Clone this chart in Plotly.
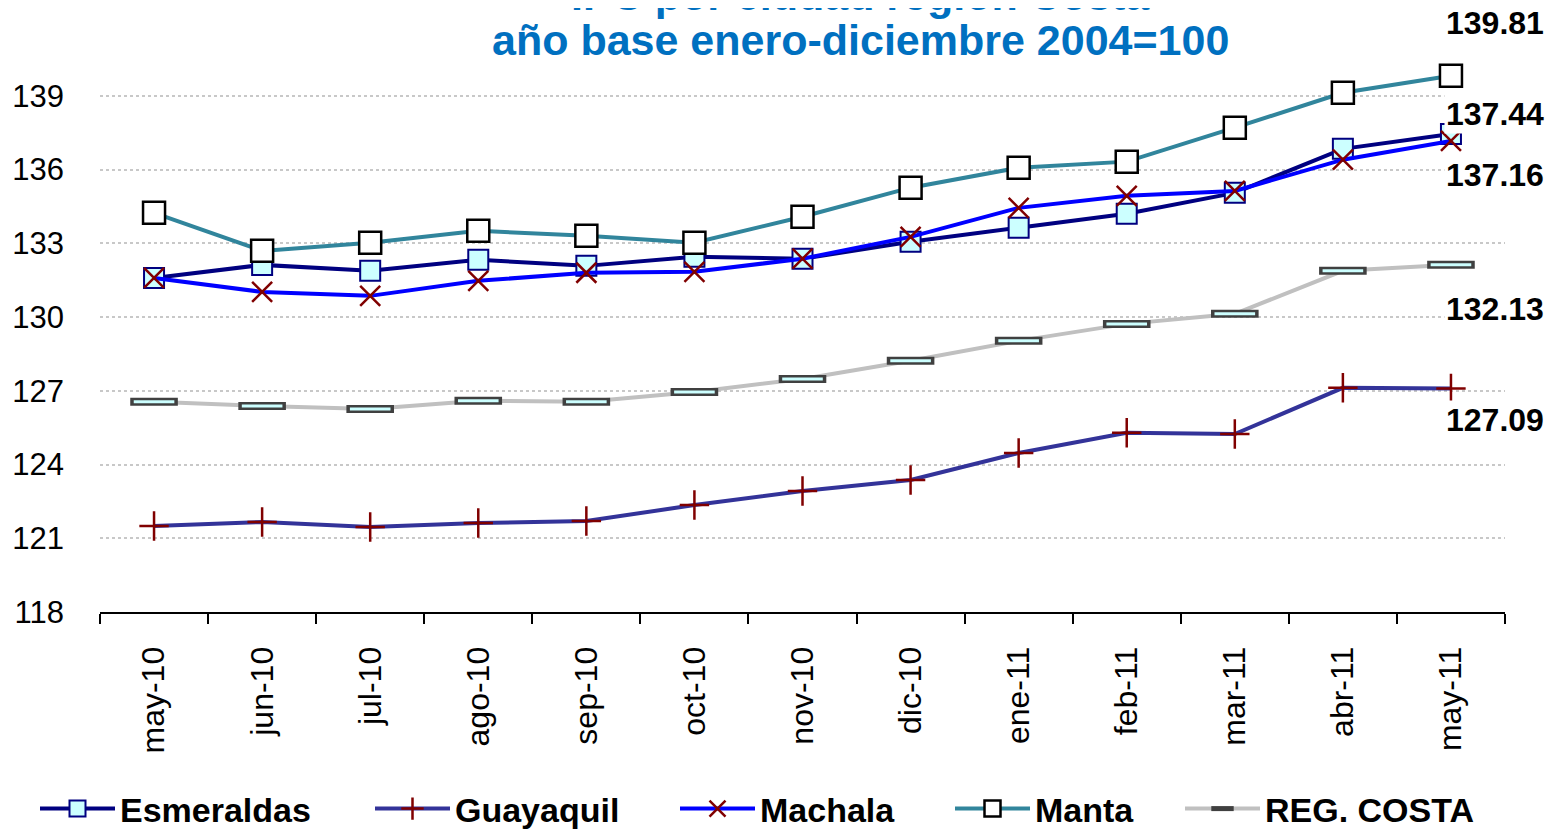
import plotly.graph_objects as go

months = ["may-10", "jun-10", "jul-10", "ago-10", "sep-10", "oct-10", "nov-10",
          "dic-10", "ene-11", "feb-11", "mar-11", "abr-11", "may-11"]

esmeraldas = [131.59, 132.12, 131.88, 132.33, 132.08, 132.45, 132.37, 133.06, 133.63, 134.20, 135.05, 136.84, 137.44]
guayaquil = [121.50, 121.66, 121.46, 121.62, 121.70, 122.35, 122.92, 123.37, 124.47, 125.29, 125.24, 127.12, 127.09]
machala = [131.59, 131.02, 130.86, 131.47, 131.80, 131.84, 132.37, 133.26, 134.44, 134.93, 135.13, 136.40, 137.16]
manta = [134.24, 132.69, 133.02, 133.51, 133.30, 133.02, 134.08, 135.26, 136.07, 136.32, 137.70, 139.12, 139.81]
reg_costa = [126.55, 126.38, 126.26, 126.59, 126.55, 126.95, 127.48, 128.22, 129.03, 129.72, 130.13, 131.88, 132.13]

y_ticks = [118, 121, 124, 127, 130, 133, 136, 139]

end_labels = ["139.81", "137.44", "137.16", "132.13", "127.09"]
end_values = [manta[-1], esmeraldas[-1], machala[-1], reg_costa[-1], guayaquil[-1]]
end_shifts = [53, 20, -34, -44, -31]

title_lines = ["IPC por ciudad región Costa", "año base enero-diciembre 2004=100"]

FONT = "Liberation Sans, Arial, sans-serif"

# page offset (browser body margin) and figure size
OFF = 8
W, H = 1560 - OFF, 832 - OFF
ML, MT, MR, MB = 100 - OFF, 22 - OFF, 55, 220
PH = H - MT - MB

legend_x_px = [40, 375, 680, 955, 1185]
legend_names = ["legend", "legend2", "legend3", "legend4", "legend5"]

fig = go.Figure()

fig.add_trace(go.Scatter(
    x=months, y=esmeraldas, name="<b>Esmeraldas</b>", mode="lines+markers", legend="legend",
    line=dict(color="#000080", width=4),
    marker=dict(symbol="square", size=20, color="#CCFFFF", line=dict(color="#000080", width=2)),
))
fig.add_trace(go.Scatter(
    x=months, y=guayaquil, name="<b>Guayaquil</b>", mode="lines+markers", legend="legend2",
    line=dict(color="#333399", width=4),
    marker=dict(symbol="cross-thin", size=21, color="#800000", line=dict(color="#800000", width=2.5)),
))
fig.add_trace(go.Scatter(
    x=months, y=machala, name="<b>Machala</b>", mode="lines+markers", legend="legend3",
    line=dict(color="#0000FF", width=4),
    marker=dict(symbol="x-thin", size=20, color="#800000", line=dict(color="#800000", width=2.5)),
))
fig.add_trace(go.Scatter(
    x=months, y=manta, name="<b>Manta</b>", mode="lines+markers", legend="legend4",
    line=dict(color="#31859C", width=4),
    marker=dict(symbol="square", size=22, color="#FFFFFF", line=dict(color="#000000", width=2.5)),
))
fig.add_trace(go.Scatter(
    x=months, y=reg_costa, name="<b>REG. COSTA</b>", mode="lines+markers", legend="legend5",
    line=dict(color="#C0C0C0", width=4),
    marker=dict(symbol="line-ew", size=34, color="#404040", line=dict(color="#404040", width=8)),
))
fig.add_trace(go.Scatter(
    x=months, y=reg_costa, showlegend=False, mode="markers", hoverinfo="skip",
    marker=dict(symbol="line-ew", size=29, color="#CCFFFF", line=dict(color="#CCFFFF", width=3)),
))

for txt, val, sh in zip(end_labels, end_values, end_shifts):
    fig.add_annotation(
        x=months[-1], y=val, text="<b>" + txt + "</b>", showarrow=False,
        xanchor="right", yanchor="middle", xshift=95, yshift=sh,
        font=dict(family=FONT, size=32, color="#000000"), bgcolor="#FFFFFF",
    )

title_center_x = 860 - OFF
for line, ypx in zip(title_lines, [-5, 40]):
    fy = ypx - OFF
    fig.add_annotation(
        x=(title_center_x - ML) / (W - ML - MR), y=(MT + PH - fy) / PH,
        xref="paper", yref="paper",
        text="<b>" + line + "</b>", showarrow=False,
        xanchor="center", yanchor="middle",
        font=dict(family=FONT, size=43, color="#0070C0"),
    )

legend_common = dict(
    orientation="h", xanchor="left", y=1 - (809 - OFF) / H, yanchor="middle",
    xref="container", yref="container",
    font=dict(family=FONT, size=34, color="#000000"),
    itemwidth=75, bgcolor="rgba(0,0,0,0)",
)

layout_legends = {}
for name, px in zip(legend_names, legend_x_px):
    layout_legends[name] = dict(legend_common, x=(px - OFF - 5) / W)

fig.update_layout(
    width=W, height=H,
    margin=dict(l=ML, r=MR, t=MT, b=MB, autoexpand=False),
    paper_bgcolor="#FFFFFF", plot_bgcolor="#FFFFFF",
    font=dict(family=FONT, color="#000000"),
    showlegend=True,
    xaxis=dict(
        type="category", range=[-0.5, 12.5], automargin=False,
        showline=True, linecolor="#000000", linewidth=2,
        ticks="outside", ticklen=10, tickwidth=2, tickcolor="#000000",
        tickson="boundaries", tickangle=-90, ticklabelstandoff=20,
        tickfont=dict(family=FONT, size=32, color="#000000"),
        showgrid=False, zeroline=False,
    ),
    yaxis=dict(
        range=[118, 142], tickvals=y_ticks, automargin=False,
        showgrid=True, gridcolor="#C8C8C8", griddash="dot", gridwidth=2,
        showline=False, zeroline=False, ticks="",
        tickfont=dict(family=FONT, size=31, color="#000000"),
        ticklabelstandoff=35,
    ),
    **layout_legends,
)

fig.write_html("out.html")
